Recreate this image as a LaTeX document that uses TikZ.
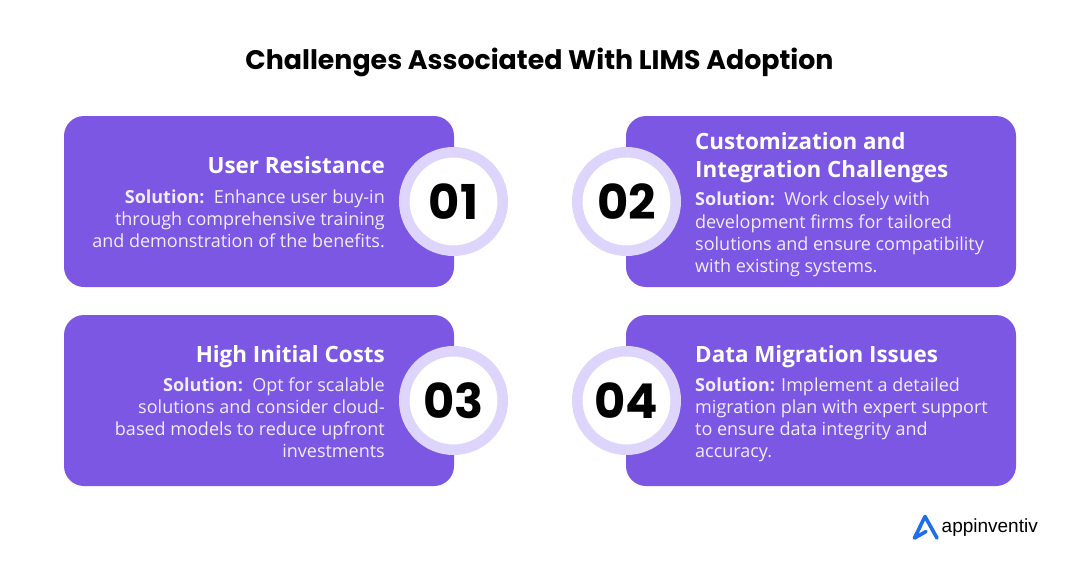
\documentclass[tikz,border=0pt]{standalone}
\usepackage{fontspec}
\setmainfont{Open Sans}
\newfontfamily\popfont{Poppins}
\newfontfamily\logofont{Liberation Sans}
\definecolor{cardpurple}{HTML}{7B57E4}
\definecolor{ringlilac}{HTML}{DDD5FB}
\definecolor{logoblue}{HTML}{1F6FEB}
\definecolor{bodylilac}{HTML}{F1EDFF}
\newcommand{\hdsize}{\bfseries\fontsize{22.4}{26}\selectfont}
\newcommand{\bdsize}{\fontsize{18}{22}\selectfont}
\newcommand{\textline}[6]{\node[#1,anchor=base #2] (#3) at (#4,#5) {#6};}
\tikzset{
  cardbox/.style={fill=cardpurple,rounded corners=20pt},
  ring/.style={circle,fill=white,draw=ringlilac,line width=10.5pt,minimum size=98.5pt,inner sep=0pt,font=\popfont\fontsize{48}{48}\selectfont\bfseries,text=black},
  headline/.style={inner sep=0pt,text=white,font=\hdsize},
  bodyline/.style={inner sep=0pt,text=bodylilac,font=\bdsize},
}
\begin{document}
\begin{tikzpicture}[x=1pt,y=-1pt]
\useasboundingbox (0,0) rectangle (1080,570);
\fill[white] (0,0) rectangle (1080,570);
\node[inner sep=0pt,anchor=base,font=\popfont\fontsize{26.8}{32}\selectfont\bfseries,text=black] (title) at (539.5,69) {Challenges Associated With LIMS Adoption};
\fill[cardbox] (64,116) rectangle (454,287);
\fill[cardbox] (626,116) rectangle (1016,287);
\fill[cardbox] (64,315) rectangle (454,486);
\fill[cardbox] (626,315) rectangle (1016,486);
\node[ring] (n1) at (453.5,201.5) {01};
\node[ring] (n2) at (626.5,201.5) {02};
\node[ring] (n3) at (453.5,400.5) {03};
\node[ring] (n4) at (626.5,400.5) {04};
% card 1
\textline{headline}{east}{a0}{385}{173}{User Resistance}
\textline{bodyline}{east}{a1}{385}{203}{\textbf{Solution:}\ \ Enhance user buy-in}
\textline{bodyline}{east}{a2}{385}{225}{through comprehensive training}
\textline{bodyline}{east}{a3}{385}{247}{and demonstration of the benefits.}
% card 2
\textline{headline}{west}{b0}{695}{149}{Customization and}
\textline{headline}{west}{b00}{695}{177}{Integration Challenges}
\textline{bodyline}{west}{b1}{695}{205}{\textbf{Solution:}\ \ Work closely with}
\textline{bodyline}{west}{b2}{695}{228}{development firms for tailored}
\textline{bodyline}{west}{b3}{695}{250}{solutions and ensure compatibility}
\textline{bodyline}{west}{b4}{695}{272}{with existing systems.}
% card 3
\textline{headline}{east}{c0}{385}{362}{High Initial Costs}
\textline{bodyline}{east}{c1}{385}{391}{\textbf{Solution:}\ \ Opt for scalable}
\textline{bodyline}{east}{c2}{385}{413}{solutions and consider cloud-}
\textline{bodyline}{east}{c3}{385}{435}{based models to reduce upfront}
\textline{bodyline}{east}{c4}{385}{457}{investments}
% card 4
\textline{headline}{west}{d0}{695}{362}{Data Migration Issues}
\textline{bodyline}{west}{d1}{695}{391}{\textbf{Solution:} Implement a detailed}
\textline{bodyline}{west}{d2}{695}{413}{migration plan with expert support}
\textline{bodyline}{west}{d3}{695}{435}{to ensure data integrity and}
\textline{bodyline}{west}{d4}{695}{457}{accuracy.}
% logo
\draw[logoblue,line width=3.6pt,line join=round,line cap=round] (926,531.5) -- (914.5,538) -- (925,516.5) -- (937,538);
\node[inner sep=0pt,anchor=base west,font=\logofont\fontsize{19}{22}\selectfont,text=black] (logo) at (941.5,532.5) {appinventiv};
\end{tikzpicture}
\end{document}
